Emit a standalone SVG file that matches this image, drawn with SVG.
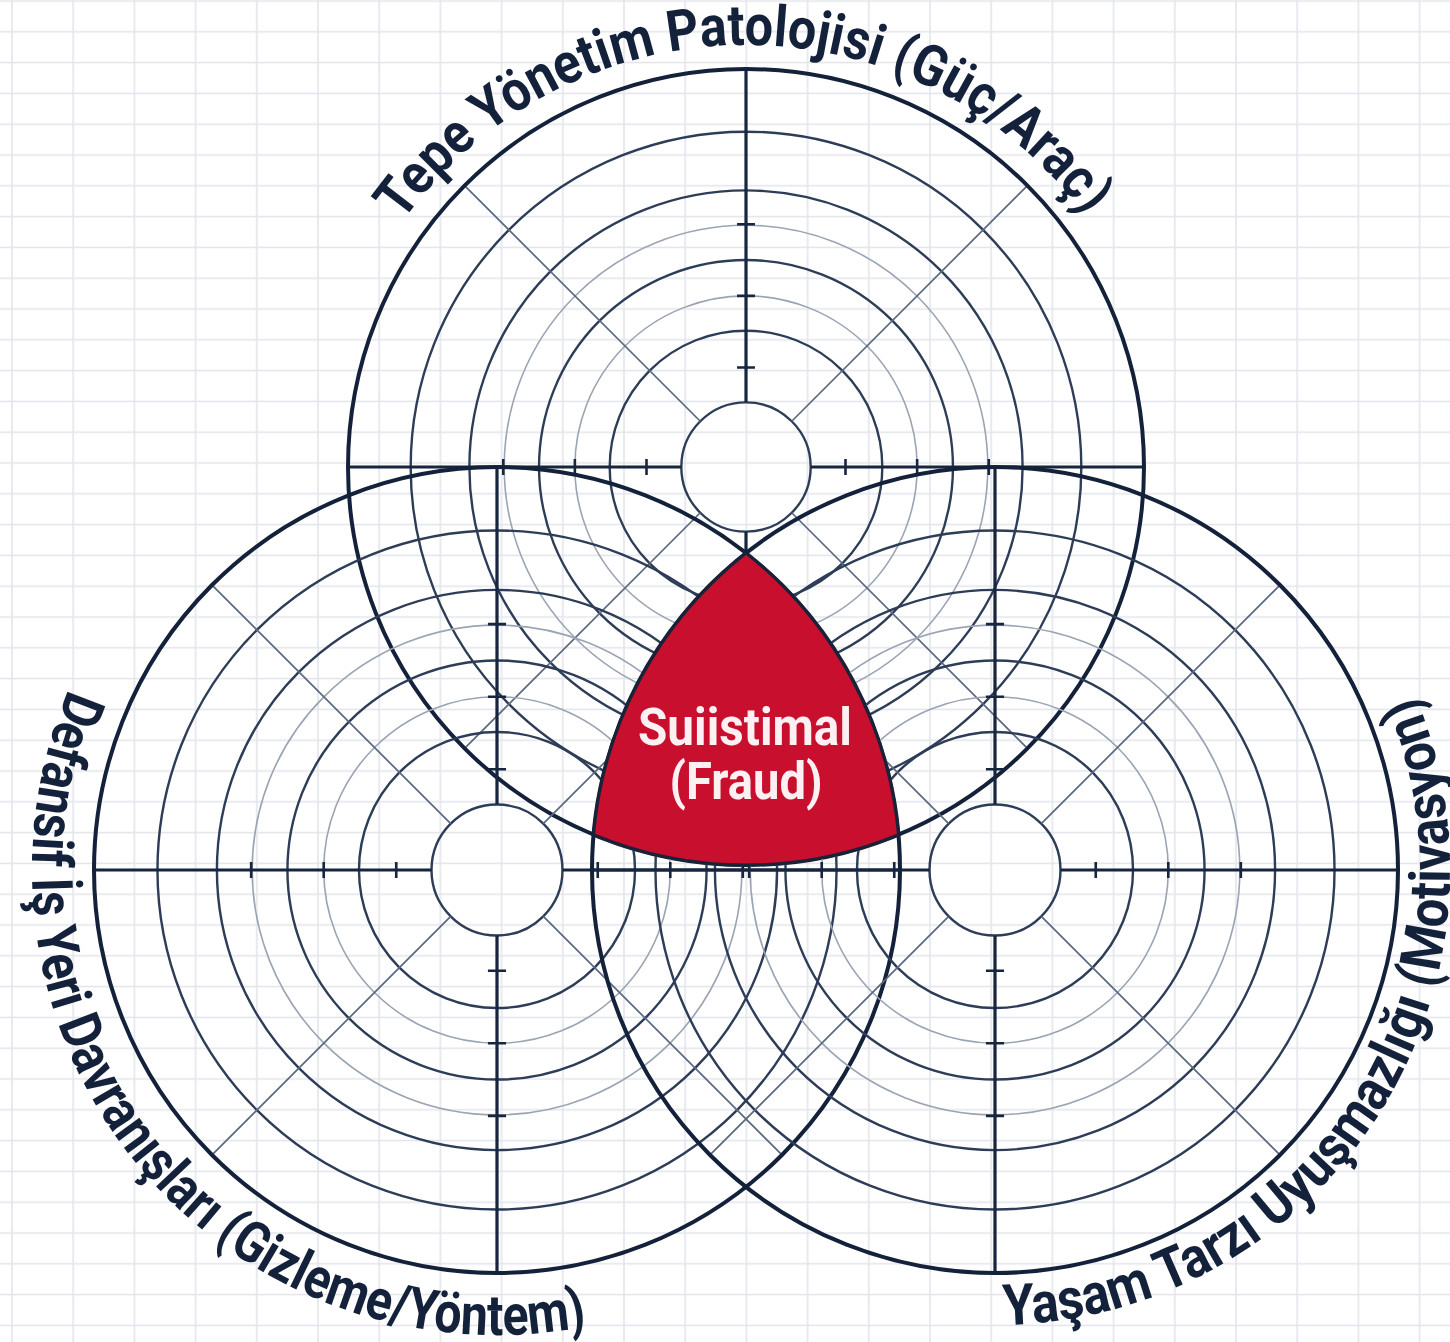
<svg xmlns="http://www.w3.org/2000/svg" width="1450" height="1342" viewBox="0 0 1450 1342">
<style>
.ring{fill:none;stroke:#2e3d57;stroke-width:2.4}
.ring-l{fill:none;stroke:#9aa4b3;stroke-width:1.6}
.diag{fill:none;stroke:#5b6a80;stroke-width:1.7}
.axis{fill:none;stroke:#17253f;stroke-width:3.2}
.tick{fill:none;stroke:#17253f;stroke-width:2.6}
.outer{fill:none;stroke:#14213a;stroke-width:4}
.label{font-family:Roboto,"Liberation Sans",sans-serif;font-weight:700;font-size:57px;fill:#14213a}
.center{font-family:Roboto,"Liberation Sans",sans-serif;font-weight:700;font-size:51px;fill:#fdf0f2;text-anchor:middle}
</style>
<defs>
<pattern id="grid" x="-18.6" y="-14.4" width="61.2" height="30.8" patternUnits="userSpaceOnUse"><path d="M30.6 0V30.8M0 15.4H61.2" stroke="#e1e4ea" stroke-width="1.5" fill="none"/></pattern>
<g id="dial">
<circle class="ring-l" r="172"/><circle class="ring-l" r="243"/>
<circle class="ring" r="65"/><circle class="ring" r="137"/><circle class="ring" r="208"/><circle class="ring" r="278"/><circle class="ring" r="337"/>
<path class="diag" d="M45.96 -45.96L282.84 -282.84M-45.96 -45.96L-282.84 -282.84M-45.96 45.96L-282.84 282.84M45.96 45.96L282.84 282.84"/>
<path class="axis" d="M-400 0H-65M65 0H400M0 -400V-65M0 65V400"/>
<path class="tick" d="M100 -8V8M172 -8V8M244 -8V8M-100 -8V8M-172 -8V8M-244 -8V8M-9 100H9M-9 172H9M-9 244H9M-9 -100H9M-9 -172H9M-9 -244H9"/>
<circle class="outer" r="400"/>
</g>
<path id="arc-top" d="M402.4 221.9A422 422 0 0 1 1142.6 322.7"/>
<path id="arc-left" d="M68.6 689.1A465 465 0 0 0 729.5 1272.7"/>
<path id="arc-right" d="M1003.7 1324.9A455 455 0 0 0 1343.5 577.5"/>
</defs>
<rect width="1450" height="1342" fill="#ffffff"/>
<rect width="1450" height="1342" fill="url(#grid)"/>
<g id="circle-top"><use href="#dial" transform="translate(746 467) scale(0.995)"/></g>
<g id="circle-left"><use href="#dial" transform="translate(497 870) scale(1.0075)"/></g>
<g id="circle-right"><use href="#dial" transform="translate(995 870) scale(1.0075)"/></g>
<g id="connectors"></g>
<g id="node-fraud">
<path d="M746 553.1A403 403 0 0 0 593.5 834.6A398 398 0 0 0 898.5 834.6A403 403 0 0 0 746 553.1Z" fill="#c8102e" stroke="#1a2238" stroke-width="3" stroke-linejoin="round"/>
<text class="center" x="745" y="745" textLength="214" lengthAdjust="spacingAndGlyphs">Suiistimal</text>
<text class="center" x="746" y="799" textLength="153" lengthAdjust="spacingAndGlyphs">(Fraud)</text>
</g>
<g id="label-top"><text class="label"><textPath href="#arc-top" textLength="795.5" lengthAdjust="spacingAndGlyphs">Tepe Yönetim Patolojisi (Güç/Araç)</textPath></text></g>
<g id="label-left"><text class="label"><textPath href="#arc-left" textLength="1007" lengthAdjust="spacingAndGlyphs">Defansif İş Yeri Davranışları (Gizleme/Yöntem)</textPath></text></g>
<g id="label-right"><text class="label"><textPath href="#arc-right" textLength="885" lengthAdjust="spacingAndGlyphs">Yaşam Tarzı Uyuşmazlığı (Motivasyon)</textPath></text></g>
</svg>
